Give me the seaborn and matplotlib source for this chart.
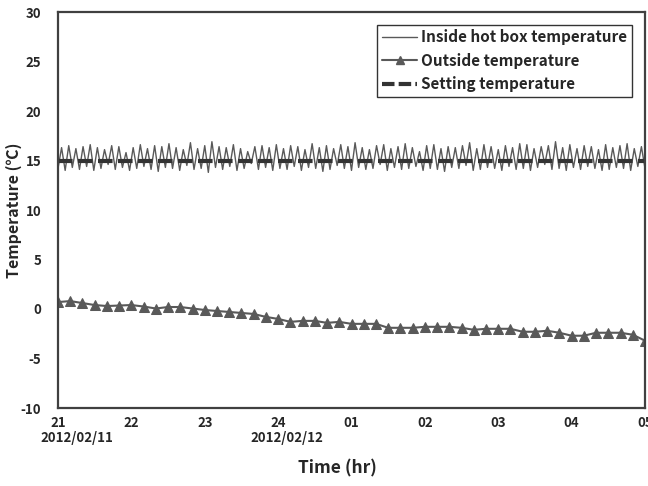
import numpy as np
import pandas as pd
import matplotlib
matplotlib.use("Agg")
import matplotlib.pyplot as plt
import seaborn as sns
from matplotlib.lines import Line2D

# ---- data ----
hour_labels = ["21", "22", "23", "24", "01", "02", "03", "04", "05"]
date_labels = ["2012/02/11", "2012/02/12"]

# inside hot box temperature: alternating troughs / peaks (~6 min cycle)
inside_peaks = [16.3,16.5,16.2,16.4,16.6,16.3,16.1,16.5,16.4,15.8,16.3,16.6,16.2,16.5,16.4,16.7,16.3,16.1,16.8,16.2,
                16.5,16.9,16.4,16.3,16.6,16.2,15.9,16.4,16.5,16.3,16.6,16.2,16.5,16.4,16.1,16.7,16.3,16.5,16.2,16.6,
                16.4,16.8,16.3,16.1,16.5,16.6,16.2,16.4,16.7,16.3,15.9,16.5,16.6,16.2,16.4,16.3,16.5,16.8,16.2,16.6,
                16.4,16.1,16.5,16.3,16.7,16.6,16.2,16.4,16.5,16.9,16.3,16.6,16.2,16.5,16.4,16.1,16.6,16.3,16.5,16.7,
                16.2,16.4]
inside_troughs = [14.2,14.0,14.3,14.1,14.4,14.0,14.2,14.6,14.1,14.3,14.0,14.2,14.4,14.1,13.9,14.3,14.2,14.0,14.5,14.1,
                  14.2,13.8,14.3,14.1,14.4,14.0,14.2,14.7,14.1,14.3,14.0,14.2,14.1,14.4,14.0,14.3,14.2,13.9,14.1,14.5,
                  14.2,14.0,14.3,14.1,14.2,14.6,14.0,14.3,14.1,14.2,14.4,14.0,14.2,14.1,13.9,14.3,14.2,14.5,14.0,14.1,
                  14.3,14.2,14.0,14.4,14.1,14.2,14.0,14.3,14.6,14.1,14.2,14.0,14.3,14.1,14.4,14.2,14.0,14.1,14.3,14.2,
                  14.0,14.4,14.2]

# outside temperature every 10 minutes
outside_temp = [0.7, 0.8, 0.6, 0.4, 0.3, 0.35, 0.4, 0.25, 0.05, 0.2, 0.2, 0.05, -0.1, -0.2, -0.3, -0.4,
                -0.5, -0.8, -1.0, -1.3, -1.2, -1.2, -1.4, -1.3, -1.5, -1.5, -1.5, -1.9, -1.9, -1.9, -1.8,
                -1.8, -1.8, -1.9, -2.1, -2.0, -2.0, -2.0, -2.3, -2.3, -2.2, -2.4, -2.7, -2.7, -2.4, -2.4,
                -2.4, -2.6, -3.2]

setting_temp = 15.0

# ---- build frames ----
inside_vals = []
for i in range(len(inside_peaks)):
    inside_vals.append(inside_troughs[i])
    inside_vals.append(inside_peaks[i])
inside_vals.append(inside_troughs[-1])
t_in = np.linspace(0, 8, len(inside_vals))
df_in = pd.DataFrame({"t": t_in, "v": inside_vals})
t_out = np.linspace(0, 8, len(outside_temp))
df_out = pd.DataFrame({"t": t_out, "v": outside_temp})
df_set = pd.DataFrame({"t": [0, 8], "v": [setting_temp, setting_temp]})

sns.set_theme(style="white")
plt.rcParams['font.family'] = ['Noto Sans CJK KR', 'DejaVu Sans']
plt.rcParams['font.weight'] = 'bold'

fig = plt.figure(figsize=(6.48, 4.86), dpi=100)
ax = fig.add_axes([58/648, 1-408/486, (645-58)/648, (408-12)/486])

gray = "#595959"
sns.lineplot(data=df_in, x="t", y="v", ax=ax, color=gray, lw=1.0, sort=False,
             estimator=None)
sns.lineplot(data=df_set, x="t", y="v", ax=ax, color="#333333", lw=3.0,
             estimator=None, dashes=False)
ax.lines[-1].set_dashes([3.5, 1.3])
sns.lineplot(data=df_out, x="t", y="v", ax=ax, color=gray, lw=1.5, marker="^",
             markersize=7, markeredgecolor=gray, estimator=None)

ax.set_xlim(0, 8)
ax.set_ylim(-10, 30)
ax.set_xticks(range(9))
ax.set_xticklabels(hour_labels, fontsize=9.5, fontweight='bold')
ax.set_yticks(range(-10, 31, 5))
ax.set_yticklabels([str(v) for v in range(-10, 31, 5)], fontsize=9.5, fontweight='bold')
ax.tick_params(axis='both', direction='in', length=4, width=1, color="#333333", pad=6)
ax.tick_params(axis='y', pad=12)
for s in ax.spines.values():
    s.set_color("#404040")
    s.set_linewidth(1.6)

ax.set_xlabel("")
ax.set_ylabel("")
fig.text(14/648, 1-210/486, "Temperature (\u2103)", ha='center', va='center', rotation=90,
         fontsize=11.5, fontweight='bold')
fig.text(337/648, 1-468/486, "Time (hr)", ha='center', va='center', fontsize=12.5, fontweight='bold')

ax.text(-0.245, -0.075, date_labels[0], transform=ax.get_xaxis_transform(), ha='left', va='center',
        fontsize=9.5, fontweight='bold', clip_on=False)
ax.text(2.62, -0.075, date_labels[1], transform=ax.get_xaxis_transform(), ha='left', va='center',
        fontsize=9.5, fontweight='bold', clip_on=False)

handles = [
    Line2D([], [], color=gray, lw=1.0),
    Line2D([], [], color=gray, lw=1.5, marker="^", markersize=6),
    Line2D([], [], color="#333333", lw=3.0, dashes=[3.0, 1.0]),
]
labels = ["Inside hot box temperature", "Outside temperature", "Setting temperature"]
leg = ax.legend(handles, labels, loc='upper right', bbox_to_anchor=(0.985, 0.98),
                frameon=True, fancybox=False, edgecolor='black',
                handlelength=2.3, handletextpad=0.25, borderpad=0.3, labelspacing=0.5,
                borderaxespad=0.3, prop={'weight': 'bold', 'size': 11})
leg.get_frame().set_linewidth(1.0)

fig.savefig("out.png", dpi=100)
